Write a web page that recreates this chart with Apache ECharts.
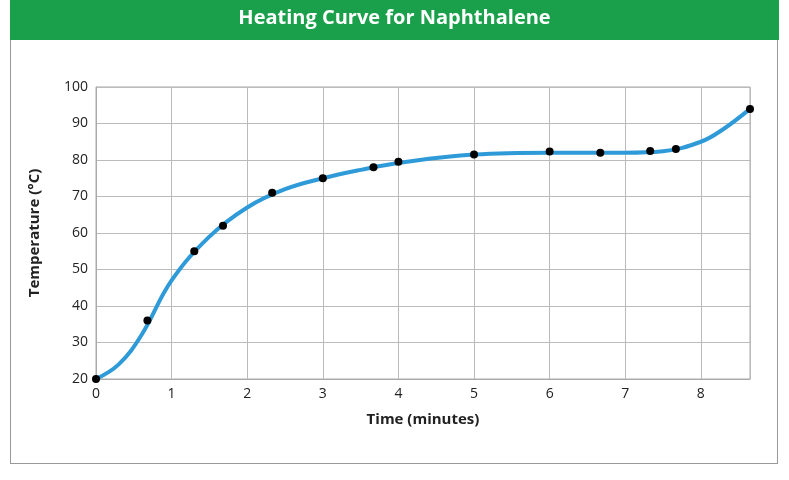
<!DOCTYPE html>
<html><head><meta charset="utf-8">
<script src="https://cdn.jsdelivr.net/npm/echarts@6/dist/echarts.min.js"></script>
<style>body{margin:0;background:#fff}#frame{position:absolute;left:10px;top:0;width:768px;height:464px;border:1px solid #999;box-sizing:border-box}#c{position:absolute;left:0;top:0;width:789px;height:480px}</style>
</head><body><div id="frame"></div><div id="c"></div>
<script>
const title = "Heating Curve for Naphthalene";
const pointTimes = [0,0.68,1.3,1.68,2.33,3,3.67,4,5,6,6.67,7.33,7.67,8.65];
const pointTemps = [20,36,55,62,71,75,78,79.5,81.5,82.3,82,82.5,83,94];
const curveTimes = [0,0.3,0.6,1,1.5,2,2.5,3,3.5,4,5,6,7,7.5,8,8.3,8.65];
const curveTemps = [20,24,32,47,59,67,72,75,77.3,79.2,81.5,82,82,82.4,85,88.5,94];
const chart = echarts.init(document.getElementById('c'));
const nameStyle = {fontSize:15,fontWeight:'bold',fontFamily:'Open Sans',color:'#222'};
chart.setOption({
  animation:false,
  graphic:[{type:'rect',left:10,top:0,shape:{width:769,height:40},style:{fill:'#1aa04a'}},
    {type:'text',left:'center',top:8,style:{text:title,fill:'#fff',font:'bold 20px "Open Sans"'}}],
  grid:{left:96,top:87,width:654,height:292,show:true,borderColor:'#aaa',borderWidth:1},
  xAxis:{type:'value',min:0,max:8.65,interval:1,name:'Time (minutes)',nameLocation:'middle',nameGap:33,
    nameTextStyle:nameStyle,
    axisLine:{lineStyle:{color:'#aaa'}},axisTick:{show:false},
    axisLabel:{color:'#222',fontSize:14,fontFamily:'Open Sans',formatter:v=>Number.isInteger(v)?v:''},
    splitLine:{lineStyle:{color:'#bbb'}}},
  yAxis:{type:'value',min:20,max:100,interval:10,name:'Temperature (°C)',nameLocation:'middle',nameGap:54,
    nameTextStyle:nameStyle,
    axisLine:{show:true,lineStyle:{color:'#aaa'}},axisTick:{show:false},
    axisLabel:{color:'#222',fontSize:14,fontFamily:'Open Sans'},
    splitLine:{lineStyle:{color:'#bbb'}}},
  series:[
    {type:'line',z:2,data:curveTimes.map((t,i)=>[t,curveTemps[i]]),smooth:0.4,showSymbol:false,
     lineStyle:{color:'#2e9ad8',width:4}},
    {type:'scatter',z:5,data:pointTimes.map((t,i)=>[t,pointTemps[i]]),symbolSize:8,itemStyle:{color:'#000',opacity:1}}
  ]
});
</script></body></html>
